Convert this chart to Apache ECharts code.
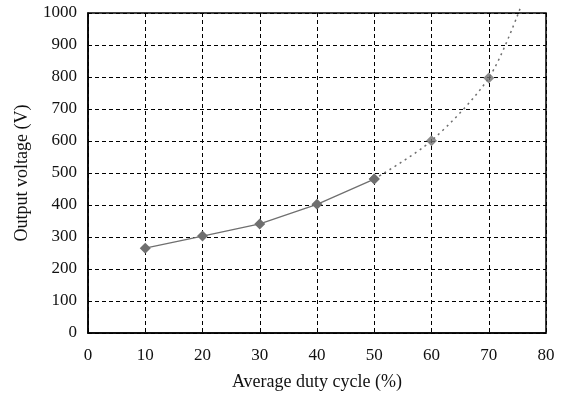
<!DOCTYPE html>
<html><head><meta charset="utf-8">
<script src="https://cdn.jsdelivr.net/npm/echarts@6/dist/echarts.min.js"></script>
<style>html,body{margin:0;padding:0;background:#fff}#c{width:562px;height:401px}</style>
</head><body><div id="c"></div>
<script>
const dutyMeasured = [10, 20, 30, 40, 50];
const voltMeasured = [265, 303, 341, 402, 481];
const dutyExtrap = [50, 60, 70, 75.5];
const voltExtrap = [481, 601, 797, 1015];
const extrapMarked = [true, true, true, false];

const chart = echarts.init(document.getElementById('c'));
const font = 'Liberation Serif';
const gray = '#6f6f6f';
chart.setOption({
  animation: false,
  grid: {left: 88, right: 16, top: 13, bottom: 68},
  xAxis: {
    type: 'value', min: 0, max: 80, interval: 10,
    name: 'Average duty cycle (%)', nameLocation: 'middle', nameGap: 40,
    nameTextStyle: {fontFamily: font, fontSize: 18, color: '#111'},
    axisLine: {onZero: false, lineStyle: {color: '#000', width: 1.5}},
    axisTick: {show: false},
    axisLabel: {fontFamily: font, fontSize: 17, color: '#111', margin: 14},
    splitLine: {show: true, lineStyle: {color: '#000', type: [4, 3], width: 1}}
  },
  yAxis: {
    type: 'value', min: 0, max: 1000, interval: 100,
    name: 'Output voltage (V)', nameLocation: 'middle', nameGap: 57,
    nameTextStyle: {fontFamily: font, fontSize: 18, color: '#111'},
    axisLine: {show: true, onZero: false, lineStyle: {color: '#000', width: 1.5}},
    axisTick: {show: false},
    axisLabel: {fontFamily: font, fontSize: 17, color: '#111', margin: 11, formatter: v => String(v)},
    splitLine: {show: true, lineStyle: {color: '#000', type: [4, 3], width: 1}}
  },
  series: [
    {
      type: 'line', data: dutyExtrap.map((x, i) => [x, voltExtrap[i]]),
      smooth: 0.3, clip: false, symbol: 'none',
      lineStyle: {color: gray, width: 1.5, type: [2, 4]}, z: 3
    },
    {
      type: 'line', data: dutyMeasured.map((x, i) => [x, voltMeasured[i]]),
      symbol: 'diamond', symbolSize: 11,
      itemStyle: {color: gray}, lineStyle: {color: gray, width: 1.2}, z: 4
    },
    {
      type: 'scatter', data: dutyExtrap.filter((x, i) => extrapMarked[i]).map((x, i) => [x, voltExtrap[i]]),
      symbol: 'diamond', symbolSize: 11, itemStyle: {color: gray}, z: 4
    }
  ]
});
const p0 = chart.convertToPixel({gridIndex: 0}, [0, 1000]);
const p1 = chart.convertToPixel({gridIndex: 0}, [80, 0]);
chart.setOption({graphic: [{
  type: 'rect', shape: {x: p0[0], y: p0[1], width: p1[0] - p0[0], height: p1[1] - p0[1]},
  style: {fill: 'none', stroke: '#000', lineWidth: 1.5}, z: 10
}]});
</script></body></html>
